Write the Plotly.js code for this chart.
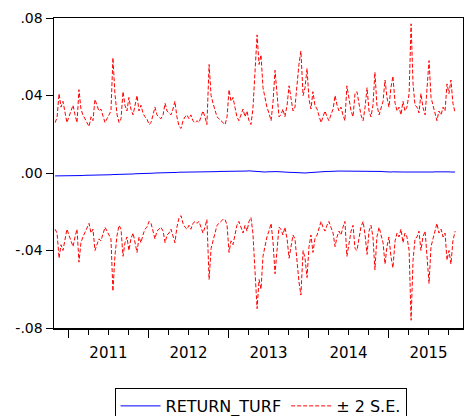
<!DOCTYPE html>
<html>
<head>
<meta charset="utf-8">
<script src="https://cdn.plot.ly/plotly-3.0.1.min.js"></script>
<style>html,body{margin:0;padding:0;background:#fff}#chart{width:464px;height:416px}</style>
</head>
<body>
<div id="chart"></div>
<script>
// Observation calendar: first and last observation, 201 observations
var firstObs = '2010-11-01';
var lastObs = '2015-11-01';
var nObs = 201;

// Forecast RETURN_TURF
var returnTurf = [
-0.0015,-0.0015,-0.0016,-0.0015,-0.0015,-0.0014,-0.0015,-0.0015,-0.0014,-0.0014,-0.0015,-0.0014,-0.0014,
-0.0013,-0.0013,-0.0012,-0.0012,-0.0012,-0.0011,-0.0012,-0.0011,-0.0010,-0.0010,-0.0011,-0.0012,-0.0010,-0.0009,-0.0009,-0.0009,-0.0008,-0.0008,-0.0008,
-0.0007,-0.0007,-0.0006,-0.0006,-0.0006,-0.0005,-0.0005,-0.0005,-0.0004,-0.0004,-0.0003,-0.0003,-0.0003,-0.0002,-0.0002,-0.0002,
-0.0001,-0.0001,0.0000,0.0000,0.0000,0.0001,0.0001,0.0001,0.0002,0.0002,0.0002,0.0003,0.0003,0.0003,0.0004,0.0004,0.0004,
0.0004,0.0005,0.0005,0.0005,0.0005,0.0006,0.0006,0.0006,0.0006,0.0006,0.0007,0.0007,0.0007,0.0007,0.0007,0.0007,0.0007,
0.0008,0.0008,0.0007,0.0008,0.0008,0.0008,0.0009,0.0008,0.0009,0.0009,0.0009,0.0010,0.0010,0.0010,0.0010,0.0011,0.0010,0.0009,0.0008,
0.0006,0.0005,0.0005,0.0006,0.0005,0.0006,0.0007,0.0006,0.0007,0.0007,
0.0007,0.0006,0.0006,0.0005,0.0005,0.0004,0.0004,0.0003,0.0003,0.0002,
0.0002,0.0001,0.0001,0.0000,0.0000,0.0001,0.0002,0.0003,0.0004,0.0005,
0.0006,0.0007,0.0007,0.0007,0.0008,0.0008,0.0008,0.0009,0.0009,0.0009,
0.0009,0.0010,0.0010,0.0010,0.0010,0.0010,0.0011,0.0010,0.0010,0.0010,
0.0010,0.0009,0.0010,0.0010,0.0011,0.0010,0.0010,0.0011,0.0010,0.0010,
0.0010,0.0009,0.0008,0.0007,0.0006,0.0005,0.0005,0.0005,0.0006,0.0005,
0.0005,0.0005,0.0006,0.0005,0.0005,0.0005,0.0004,0.0005,0.0004,0.0004,
0.0004,0.0003,0.0003,0.0003,0.0002,0.0002,0.0003,0.0004,0.0005,0.0006,
0.0007,0.0007,0.0006,0.0006,0.0007,0.0006,0.0006,0.0005,0.0005,0.0005
];

// Upper band (+2 S.E.)
var upperBand = [
0.026,0.0286,0.041,0.034,0.037,0.031,0.026,0.029,0.032,0.035,0.030,0.026,0.043,0.033,0.030,0.028,0.026,0.024,0.029,0.027,
0.038,0.035,0.032,0.033,0.029,0.026,0.028,0.030,0.032,0.0595,0.041,0.030,0.026,0.028,0.042,0.035,0.032,0.039,0.033,0.030,
0.035,0.040,0.032,0.035,0.031,0.029,0.028,0.025,0.026,0.030,0.034,0.030,0.029,0.028,0.030,0.036,0.032,0.031,0.030,0.033,
0.037,0.029,0.024,0.023,0.027,0.029,0.030,0.028,0.030,0.027,0.026,0.027,0.026,0.029,0.032,0.029,0.025,0.056,0.040,0.036,
0.032,0.029,0.028,0.027,0.026,0.025,0.029,0.043,0.037,0.039,0.034,0.029,0.027,0.030,0.033,0.029,0.032,0.027,0.025,0.033,
0.056,
0.0713,0.056,0.061,0.044,0.038,0.034,0.031,0.027,0.037,0.053,0.041,0.029,0.030,0.033,0.029,0.035,0.045,0.038,0.032,0.034,
0.047,0.056,0.063,0.040,0.044,0.054,0.038,0.033,0.042,0.035,0.033,0.030,0.026,0.029,0.032,0.029,0.027,0.030,0.033,0.040,
0.035,0.032,0.034,0.030,0.027,0.045,0.039,0.032,0.029,0.041,0.042,0.036,0.030,0.027,0.034,0.044,0.032,0.029,0.035,0.052,
0.035,0.030,0.034,0.037,0.048,0.039,0.034,0.044,0.050,0.036,0.032,0.034,0.030,0.037,0.032,0.034,0.041,0.077,0.046,0.035,
0.034,0.031,0.041,0.034,0.030,0.046,0.058,0.039,0.035,0.030,0.027,0.032,0.030,0.034,0.032,0.046,0.041,0.048,0.036,0.031
];

// Lower band (-2 S.E.)
var lowerBand = [
-0.029,-0.031,-0.044,-0.037,-0.040,-0.034,-0.029,-0.032,-0.035,-0.038,-0.033,-0.029,-0.046,-0.036,-0.033,-0.031,-0.028,-0.026,-0.031,-0.029,
-0.040,-0.037,-0.034,-0.035,-0.031,-0.028,-0.030,-0.032,-0.034,-0.061,-0.043,-0.032,-0.027,-0.029,-0.043,-0.036,-0.033,-0.040,-0.034,-0.031,
-0.036,-0.041,-0.033,-0.036,-0.032,-0.029,-0.028,-0.025,-0.026,-0.030,-0.034,-0.030,-0.029,-0.028,-0.030,-0.036,-0.032,-0.031,-0.029,-0.032,
-0.036,-0.028,-0.023,-0.022,-0.026,-0.028,-0.029,-0.027,-0.029,-0.026,-0.025,-0.026,-0.025,-0.028,-0.031,-0.028,-0.024,-0.055,-0.039,-0.035,
-0.031,-0.027,-0.026,-0.025,-0.024,-0.024,-0.027,-0.041,-0.035,-0.037,-0.032,-0.027,-0.025,-0.028,-0.031,-0.027,-0.030,-0.025,-0.023,-0.031,
-0.054,
-0.070,-0.055,-0.060,-0.043,-0.037,-0.033,-0.030,-0.026,-0.036,-0.052,-0.040,-0.028,-0.029,-0.032,-0.028,-0.034,-0.044,-0.037,-0.032,-0.034,
-0.047,-0.056,-0.063,-0.040,-0.044,-0.054,-0.038,-0.032,-0.041,-0.034,-0.032,-0.029,-0.025,-0.028,-0.030,-0.027,-0.025,-0.028,-0.031,-0.038,
-0.033,-0.030,-0.032,-0.028,-0.025,-0.043,-0.037,-0.030,-0.027,-0.039,-0.040,-0.034,-0.028,-0.025,-0.032,-0.042,-0.030,-0.027,-0.033,-0.050,
-0.033,-0.028,-0.032,-0.036,-0.047,-0.038,-0.033,-0.043,-0.049,-0.035,-0.031,-0.033,-0.029,-0.036,-0.031,-0.033,-0.040,-0.076,-0.045,-0.034,
-0.033,-0.030,-0.040,-0.033,-0.030,-0.046,-0.057,-0.038,-0.034,-0.029,-0.026,-0.031,-0.029,-0.033,-0.031,-0.045,-0.040,-0.047,-0.035,-0.030
];

var yTickVals = [-0.08, -0.04, 0, 0.04, 0.08];
var yTickText = ['-.08', '-.04', '.00', '.04', '.08'];
var seriesNames = ['RETURN_TURF', '\u00b1 2 S.E.'];

// observation dates, evenly spaced over the sample
var t0 = Date.parse(firstObs + 'T00:00:00Z');
var t1 = Date.parse(lastObs + 'T00:00:00Z');
var dates = [];
for (var i = 0; i < nObs; i++) {
  dates.push(new Date(t0 + (t1 - t0) * i / (nObs - 1)).toISOString().slice(0, 10));
}

var font = 'DejaVu Sans, Liberation Sans, Arial, sans-serif';
var traces = [
  {x: dates, y: returnTurf, type: 'scatter', mode: 'lines', name: seriesNames[0],
   line: {color: '#0000ff', width: 1}},
  {x: dates, y: upperBand, type: 'scatter', mode: 'lines', name: seriesNames[1],
   line: {color: '#ff0000', width: 1, dash: '4px,2px'}},
  {x: dates, y: lowerBand, type: 'scatter', mode: 'lines', name: seriesNames[1], showlegend: false,
   line: {color: '#ff0000', width: 1, dash: '4px,2px'}}
];

var layout = {
  width: 464, height: 416,
  margin: {l: 54, r: 1, t: 18, b: 88, autoexpand: false},
  paper_bgcolor: '#fff', plot_bgcolor: '#fff',
  font: {family: font, size: 14, color: '#000'},
  showlegend: true,
  legend: {orientation: 'h', x: 0.505, xanchor: 'center', y: -0.1935, yanchor: 'top',
           bordercolor: '#000', borderwidth: 1, font: {family: font, size: 16, color: '#000'},
           itemwidth: 40, traceorder: 'normal'},
  xaxis: {type: 'date', range: ['2010-10-27', '2015-12-07'],
          tick0: '2011-01-01', dtick: 'M12', tickformat: '%Y', ticklabelmode: 'period',
          ticks: 'outside', ticklen: 8, tickcolor: '#000', tickwidth: 1, ticklabelstandoff: 2,
          minor: {dtick: 'M3', ticks: 'outside', ticklen: 5, tickcolor: '#000', tickwidth: 1, showgrid: false},
          showgrid: false, zeroline: false, showline: true, mirror: true, linecolor: '#000', linewidth: 1.5,
          tickfont: {family: font, size: 15, color: '#000'}},
  yaxis: {range: [-0.08, 0.08], tickvals: yTickVals, ticktext: yTickText,
          ticks: 'outside', ticklen: 7, tickcolor: '#000', tickwidth: 1,
          showgrid: false, zeroline: false, showline: true, mirror: true, linecolor: '#000', linewidth: 1.5,
          tickfont: {family: font, size: 14, color: '#000'}}
};

Plotly.newPlot('chart', traces, layout, {staticPlot: true, displayModeBar: false});
</script>
</body>
</html>
